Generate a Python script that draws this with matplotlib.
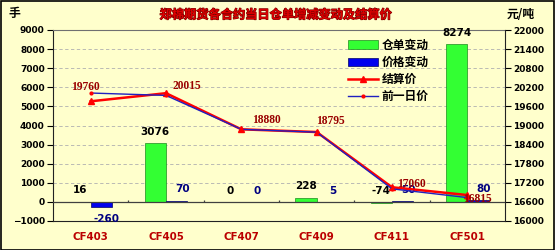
import matplotlib
matplotlib.use("Agg")
import matplotlib.pyplot as plt
import numpy as np
from matplotlib.lines import Line2D
from matplotlib.patches import Patch, Rectangle
import matplotlib.patheffects as pe

categories = ["CF403", "CF405", "CF407", "CF409", "CF411", "CF501"]
warrant_change = [16, 3076, 0, 228, -74, 8274]
price_change = [-260, 70, 0, 5, 50, 80]
settle_price = [19760, 20015, 18880, 18795, 17060, 16815]
prev_price = [20020, 19945, 18880, 18790, 17010, 16735]

title = "郑棉期货各合约当日仓单增减变动及结算价"
left_unit = "手"
right_unit = "元/吨"
legend_labels = ["仓单变动", "价格变动", "结算价", "前一日价"]

CJK = ["Noto Sans CJK SC", "DejaVu Sans"]
BG = "#FFFFCC"

fig = plt.figure(figsize=(5.55, 2.5), dpi=100, facecolor=BG)
ax = fig.add_axes([53/555, 29/250, 452/555, 191/250])
ax.set_facecolor(BG)
ax2 = ax.twinx()

x = np.arange(len(categories))
w = 0.285
ax.bar(x - w, warrant_change, width=w, align="edge", color="#33FF33",
       edgecolor="#1E8A1E", linewidth=0.5, zorder=3)
ax.bar(x, price_change, width=w, align="edge", color="#0000EE",
       edgecolor="#000066", linewidth=0.5, zorder=3)

ax.set_xlim(-0.5, len(categories) - 0.5)
ax.set_ylim(-1000, 9000)
ax.set_yticks(np.arange(-1000, 9001, 1000))
ax.yaxis.grid(True, linestyle=(0, (4, 3)), color="#B0B0B0", linewidth=0.6)
ax.set_axisbelow(True)
ax.axhline(0, color="#404040", linewidth=0.9, zorder=4)
ax.vlines(np.arange(0.5, len(categories) - 0.5, 1), 0, 120, color="#404040",
          linewidth=0.9, zorder=4)

ax.set_xticks(x)
ax.set_xticklabels(categories, color="#BB0000", fontweight="bold",
                   fontsize=7.4, family="DejaVu Sans")
ax.tick_params(axis="x", length=0, pad=8)
ax.tick_params(axis="y", direction="out", length=4, width=0.8, pad=2)
for lab in ax.get_yticklabels():
    lab.set_fontweight("bold"); lab.set_fontsize(6.5)

for s in ["left", "bottom"]:
    ax.spines[s].set_color("#222222")
ax.spines["top"].set_color("#707070")
ax.spines["right"].set_visible(False)

# bar labels
for i, v in enumerate(warrant_change):
    ax.annotate(str(v), (x[i] - w/2, max(v, 0)), xytext=(0, 8), textcoords="offset points",
                ha="center", va="center", fontsize=7.5, fontweight="bold", color="black",
                zorder=6)
for i, v in enumerate(price_change):
    off = 8 if v >= 0 else -9
    ax.annotate(str(v), (x[i] + w/2, v if v < 0 else max(v, 0)), xytext=(4, off),
                textcoords="offset points", ha="center", va="center", fontsize=7.5,
                fontweight="bold", color="#000080", zorder=6)

# price lines
ax2.set_ylim(16000, 22000)
ax2.set_yticks(np.arange(16000, 22001, 600))
ax2.plot(x, settle_price, color="#FF0000", linewidth=1.8, marker="^", markersize=5,
         markerfacecolor="#FF0000", markeredgecolor="#FF0000", zorder=5)
ax2.plot(x, prev_price, color="#2020C0", linewidth=1.0, marker="o", markersize=2,
         markerfacecolor="#FF0000", markeredgecolor="#FF0000", zorder=6)
price_offsets = [(-4, 10), (15, 5), (18, 7), (10, 8), (14, 2), (7, -3)]
for i, v in enumerate(settle_price):
    ax2.annotate(str(v), (x[i], v), xytext=price_offsets[i], textcoords="offset points",
                 ha="center", va="center", fontsize=8.3, fontweight="bold",
                 family="Liberation Serif", color="#990000", zorder=7)
ax2.tick_params(axis="y", direction="out", length=4, width=0.8, pad=2)
for lab in ax2.get_yticklabels():
    lab.set_fontweight("bold"); lab.set_fontsize(6.5)
for s in ["left", "bottom", "top"]:
    ax2.spines[s].set_visible(False)
ax2.spines["right"].set_color("#222222")

# legend
handles = [
    Patch(facecolor="#33FF33", edgecolor="#1E8A1E", linewidth=0.5),
    Patch(facecolor="#0000EE", edgecolor="#000066", linewidth=0.5),
    Line2D([], [], color="#FF0000", linewidth=1.8, marker="^", markersize=5),
    Line2D([], [], color="#2020C0", linewidth=1.0, marker="o", markersize=2,
           markerfacecolor="#FF0000", markeredgecolor="#FF0000"),
]
leg = ax2.legend(handles, legend_labels, loc="upper left",
                 bbox_to_anchor=(290/452, 1 - 4/191), frameon=False,
                 prop={"family": CJK, "weight": "bold", "size": 8.5},
                 handlelength=2.6, handleheight=0.7, handletextpad=0.3,
                 labelspacing=0.35, borderaxespad=0)

# titles / units
fig.text(276/555, 1 - 15/250, title, ha="center", va="center", color="#DD0000",
         fontsize=8.8, fontweight="bold", family=CJK,
         path_effects=[pe.withStroke(linewidth=0.8, foreground="#770000")])
fig.text(14/555, 1 - 14/250, left_unit, ha="center", va="center", fontsize=8.5,
         fontweight="bold", family=CJK)
fig.text(521/555, 1 - 15/250, right_unit, ha="center", va="center", fontsize=8.5,
         fontweight="bold", family=CJK)

# outer border
fig.patches.append(Rectangle((0.001, 0.002), 0.997, 0.995, transform=fig.transFigure,
                             fill=False, edgecolor="black", linewidth=1.2))

fig.savefig("out.png", dpi=100, facecolor=BG)
